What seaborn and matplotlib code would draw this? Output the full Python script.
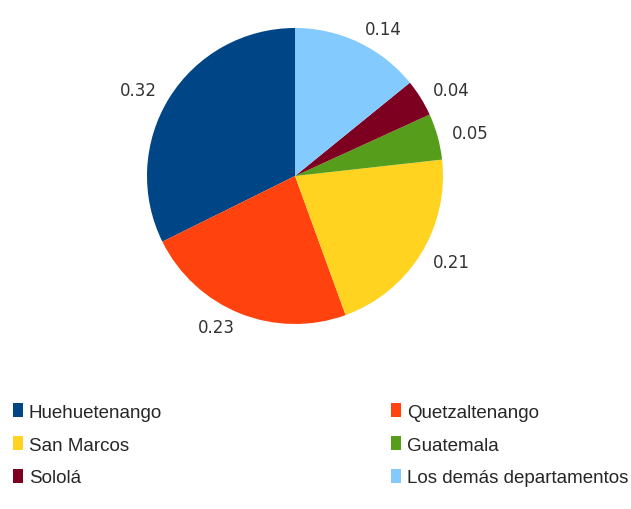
import matplotlib
matplotlib.use("Agg")
import matplotlib.pyplot as plt
import seaborn as sns
from matplotlib.patches import Patch

categories = ["Huehuetenango", "Quetzaltenango", "San Marcos", "Guatemala", "Sololá", "Los demás departamentos"]
values = [0.32, 0.23, 0.21, 0.05, 0.04, 0.14]
value_labels = ["0.32", "0.23", "0.21", "0.05", "0.04", "0.14"]
colors = ["#004586", "#ff420e", "#ffd320", "#579d1c", "#7e0021", "#83caff"]

sns.set_theme(style="white")
plt.rcParams["font.family"] = ["DejaVu Sans"]
palette = sns.color_palette(colors)

W, H = 631, 510
fig = plt.figure(figsize=(W / 100, H / 100), dpi=100)
cx, cy, r = 295, 177, 148
ax = fig.add_axes([(cx - r) / W, (H - cy - r) / H, 2 * r / W, 2 * r / H])
wedges, texts = ax.pie(values, labels=value_labels, colors=palette, startangle=90,
                       counterclock=True, labeldistance=1.1, radius=1,
                       wedgeprops=dict(linewidth=0),
                       textprops=dict(fontsize=12, color="#333333"))
ax.set_xlim(-1, 1)
ax.set_ylim(-1, 1)
ax.set_aspect("equal")
ax.axis("off")

legend_font = dict(family=["Liberation Sans", "DejaVu Sans"], size=13.5)
order = [0, 2, 4, 1, 3, 5]
handles = [Patch(facecolor=palette[i], edgecolor="none") for i in order]
labels = [categories[i] for i in order]
fig.legend(handles, labels, ncol=2, loc="upper left",
           bbox_to_anchor=(13 / W, 1 - 404 / H), frameon=False,
           prop=legend_font, handlelength=0.55, handleheight=0.8, handletextpad=0.3,
           columnspacing=12.2, labelspacing=0.81, borderaxespad=0, borderpad=0)

fig.savefig("out.png", dpi=100, facecolor="white")
